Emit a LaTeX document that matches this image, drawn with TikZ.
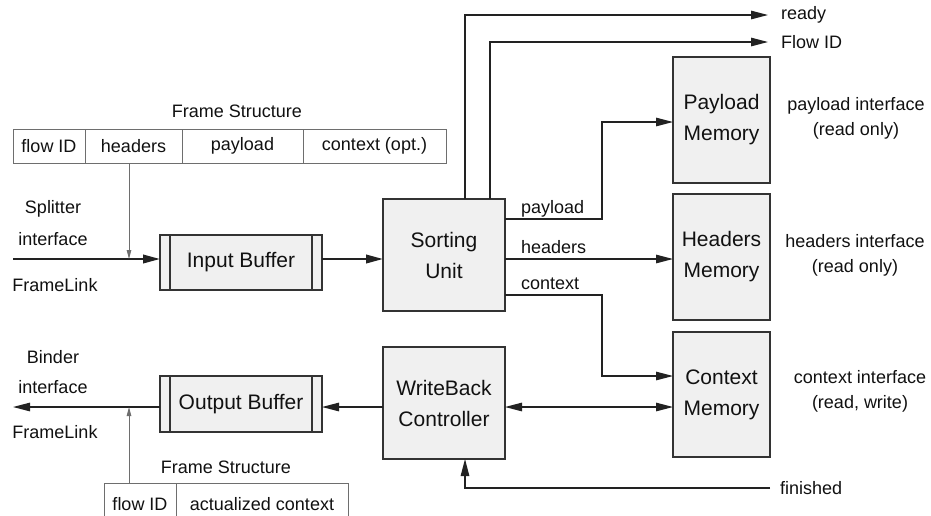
\documentclass[tikz,border=0pt]{standalone}
\usepackage{fontspec}
\setmainfont{Liberation Sans}
\usetikzlibrary{arrows.meta,calc}
\definecolor{boxfill}{HTML}{F0F0F0}
\definecolor{edgecol}{HTML}{333333}
\definecolor{wirecol}{HTML}{222222}
\definecolor{cellcol}{HTML}{6E6E6E}
\definecolor{textcol}{HTML}{111111}

\begin{document}
\begin{tikzpicture}[x=1pt,y=-1pt,
  big/.style={font=\fontsize{21}{31}\selectfont},
  small/.style={font=\fontsize{18}{25}\selectfont},
  unit/.style={draw=edgecol, fill=boxfill, line width=1.2pt, inner sep=0pt,
    outer sep=0pt, align=center, text=textcol, big},
  cell/.style={draw=cellcol, line width=1pt, inner sep=0pt, outer sep=0pt,
    minimum height=34pt, text=textcol, small},
  lbl/.style={inner sep=0pt, align=center, text=textcol, small},
  wire/.style={draw=wirecol, line width=1.2pt, -{Triangle[length=17pt,width=8.5pt]}},
  bus/.style={wire, line width=2.2pt},
  tap/.style={draw=cellcol, line width=1pt, -{Triangle[length=9pt,width=4.5pt]}},
  rail/.style={draw=edgecol, line width=1.2pt},
]
\clip (0,0) rectangle (931,515);
\fill[white] (0,0) rectangle (931,515);

% incoming frame layout
\node[cell, minimum width=72pt]  (fa) at (49,146)    {flow ID};
\node[cell, minimum width=97pt]  (fb) at (133.5,146) {headers};
\node[cell, minimum width=121pt] (fc) at (242.5,146) {payload};
\node[cell, minimum width=143pt] (fd) at (374.5,146) {context (opt.)};
\node[lbl] (ftop) at (237,111) {Frame Structure};

% splitter side labels
\node[lbl] (spl)  at (53,209) {Splitter};
\node[lbl] (spli) at (53,239) {interface};
\node[lbl] (splf) at (55,285) {FrameLink};

% functional units
\node[unit, minimum width=162pt, minimum height=55pt]  (inbuf)  at (241,262.5) {Input Buffer};
\node[unit, minimum width=122pt, minimum height=112pt] (sort)   at (444,255)   {Sorting\\Unit};
\node[unit, minimum width=97pt,  minimum height=126pt] (pay)    at (721.5,120) {Payload\\Memory};
\node[unit, minimum width=97pt,  minimum height=126pt] (hdr)    at (721.5,257) {Headers\\Memory};
\node[unit, minimum width=97pt,  minimum height=125pt] (ctx)    at (721.5,394.5) {Context\\Memory};
\node[unit, minimum width=122pt, minimum height=112pt] (wb)     at (444,403)   {WriteBack\\Controller};
\node[unit, minimum width=162pt, minimum height=56pt]  (outbuf) at (241,404)   {Output Buffer};

% buffer side bars
\draw[rail] ([xshift=10pt]inbuf.north west) -- ([xshift=10pt]inbuf.south west)
            ([xshift=-10pt]inbuf.north east) -- ([xshift=-10pt]inbuf.south east);
\draw[rail] ([xshift=10pt]outbuf.north west) -- ([xshift=10pt]outbuf.south west)
            ([xshift=-10pt]outbuf.north east) -- ([xshift=-10pt]outbuf.south east);

% memory interface labels
\node[lbl] (payif) at (856,118) {payload interface\\(read only)};
\node[lbl] (hdrif) at (855,255) {headers interface\\(read only)};
\node[lbl] (ctxif) at (860,391) {context interface\\(read, write)};

% status signals
\node[lbl, anchor=west] (ready) at (781,15)  {ready};
\node[lbl, anchor=west] (fid)   at (781,42)  {Flow ID};
\node[lbl, anchor=west] (fin)   at (780,488) {finished};

% binder side labels
\node[lbl] (bnd)  at (53,357) {Binder};
\node[lbl] (bndi) at (53,387) {interface};
\node[lbl] (bndf) at (55,432) {FrameLink};

% outgoing frame layout
\node[cell, minimum width=72pt,  minimum height=42pt] (ga) at (140,504) {flow ID};
\node[cell, minimum width=172pt, minimum height=42pt] (gb) at (262,504) {actualized context};
\node[lbl] (gtop) at (226,467) {Frame Structure};

% wire labels
\node[lbl, anchor=base west] (lp) at (521,213) {payload};
\node[lbl, anchor=base west] (lh) at (521,253) {headers};
\node[lbl, anchor=base west] (lc) at (521,289) {context};

\coordinate (splin)  at (13,259);
\coordinate (bndout) at (13,407);

% input path
\draw[bus] (splin) -- (splin -| inbuf.west);
\draw[tap] ([xshift=-4.5pt]fb.south) -- ([xshift=-4.5pt]fb.south |- splin);
\draw[bus] (inbuf.east |- splin) -- (sort.west |- splin);

% status outputs
\draw[wire] ([xshift=21pt]sort.north) |- ([xshift=-13pt]ready.west);
\draw[wire] ([xshift=46pt]sort.north) |- ([xshift=-13pt]fid.west);

% sorting unit to memories
\draw[wire] (sort.east |- 0,219) -- (602,219) |- (pay.west |- 0,122);
\draw[wire] (sort.east |- 0,259) -- (hdr.west |- 0,259);
\draw[wire] (sort.east |- 0,295) -- (602,295) |- (ctx.west |- 0,376);

% write-back path
\draw[wire, {Triangle[length=17pt,width=8.5pt]}-{Triangle[length=17pt,width=8.5pt]}]
  (wb.east |- 0,407) -- (ctx.west |- 0,407);
\draw[wire] (wb.west |- 0,407) -- (outbuf.east |- 0,407);
\draw[wire] (outbuf.west |- 0,407) -- (bndout);
\draw[tap] ([xshift=-11pt]ga.north) -- ([xshift=-11pt]ga.north |- bndout);
\draw[wire] ([xshift=-10pt]fin.west) -| ([xshift=21pt]wb.south);
\end{tikzpicture}
\end{document}
